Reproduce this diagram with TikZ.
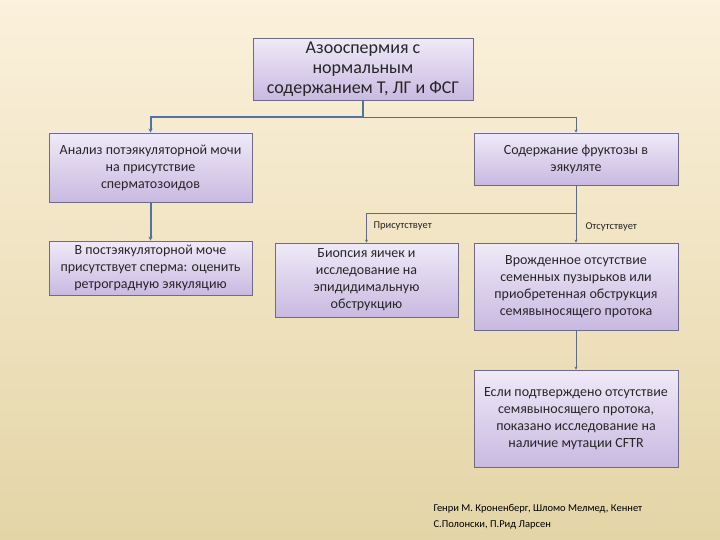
\documentclass[tikz,border=0pt]{standalone}
\usepackage{fontspec}
\setmainfont{Carlito}
\usepackage{xcolor}
\usepackage{tikz}
\usetikzlibrary{arrows.meta,positioning,calc}

\definecolor{bgtop}{HTML}{FBF1DC}
\definecolor{bgbot}{HTML}{E4D5A6}
\definecolor{boxtop}{HTML}{EFEAF8}
\definecolor{boxbot}{HTML}{C9B9E1}
\definecolor{boxline}{HTML}{6F6A86}
\definecolor{linkblue}{HTML}{4F74A2}
\definecolor{linkgray}{HTML}{5E6A86}

\tikzset{
  box/.style={draw=boxline, line width=0.9pt, top color=boxtop, bottom color=boxbot,
    align=center, inner sep=2pt, text=black!85},
  link/.style={draw=linkgray, line width=0.9pt, -{Stealth[length=3pt,width=3pt]}},
  thicklink/.style={draw=linkblue, line width=2pt, -{Stealth[length=4pt,width=4pt]}},
  tag/.style={font=\fontsize{10.5}{12}\selectfont, anchor=west, text=black!85},
}

\begin{document}
\begin{tikzpicture}[x=1pt, y=-1pt, every node/.style={font=\fontsize{14}{17}\selectfont}]
\shade[top color=bgtop, bottom color=bgbot] (0,0) rectangle (720,540);
\useasboundingbox (0,0) rectangle (720,540);

\node[box, minimum width=220pt, minimum height=62pt, inner sep=0pt, font=\fontsize{18}{20}\selectfont] (azo) at (363,69)
  {Азооспермия с\\нормальным\\содержанием Т, ЛГ и ФСГ};
\node[box, minimum width=203pt, minimum height=69pt] (urine) at (150.5,167.5)
  {Анализ потэякуляторной мочи\\на присутствие\\сперматозоидов};
\node[box, minimum width=204pt, minimum height=52pt] (fruct) at (576,159)
  {Содержание фруктозы в\\эякуляте};
\node[box, minimum width=203pt, minimum height=54pt] (retro) at (150.5,268)
  {В постэякуляторной моче\\присутствует сперма: оценить\\ретроградную эякуляцию};
\node[box, minimum width=183pt, minimum height=74pt] (biopsy) at (366.5,280)
  {Биопсия яичек и\\исследование на\\эпидидимальную\\обструкцию};
\node[box, minimum width=204pt, minimum height=87pt] (absent) at (576,286.5)
  {Врожденное отсутствие\\семенных пузырьков или\\приобретенная обструкция\\семявыносящего протока};
\node[box, minimum width=204pt, minimum height=97pt] (cftr) at (576,418.5)
  {Если подтверждено отсутствие\\семявыносящего протока,\\показано исследование на\\наличие мутации CFTR};

% branch points
\coordinate (j1) at (363,117);
\coordinate (j2) at (576,213);

\draw[thicklink] (azo.south) -- (j1) -| (urine.north);
\draw[link] (j1) -| (fruct.north);
\draw[thicklink] (urine.south) -- (retro.north);
\draw[link] (fruct.south) -- (j2) -| (biopsy.north);
\draw[link] (j2) -- (absent.north);
\draw[link] (absent.south) -- (cftr.north);

\node[tag] (yes) at (370,226) {Присутствует};
\node[tag] (no) at (582,227) {Отсутствует};

\node[font=\fontsize{10.5}{16}\selectfont, anchor=north west, align=left] (cite) at (430,501)
  {Генри М. Кроненберг, Шломо Мелмед, Кеннет\\С.Полонски, П.Рид Ларсен};
\end{tikzpicture}
\end{document}
